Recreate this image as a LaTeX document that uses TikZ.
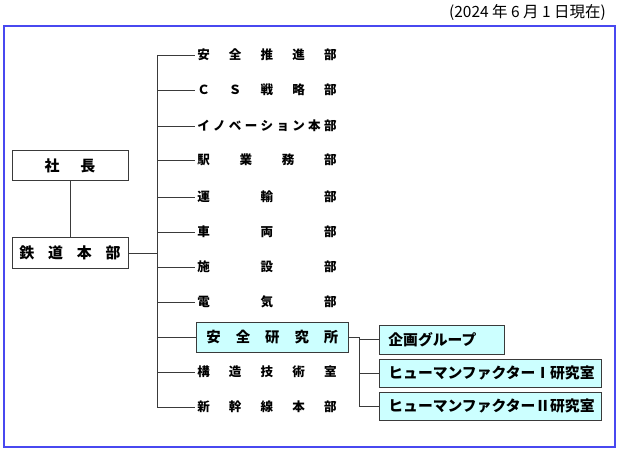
\documentclass[tikz,border=0pt]{standalone}
\usepackage{fontspec}
\setmainfont{Noto Sans CJK JP}
\usetikzlibrary{calc}

\definecolor{frameblue}{HTML}{4848F0}
\definecolor{linegray}{HTML}{3A3A3A}
\definecolor{labcyan}{HTML}{CCFFFF}

% spread the characters of a name over a fixed width
\newcommand{\spread}[2]{\makebox[#1][s]{#2}}

\tikzset{
  frame/.style={draw=frameblue, line width=1.5pt},
  link/.style={draw=linegray, line width=0.6pt},
  topbox/.style={draw=linegray, line width=0.6pt, minimum width=87pt,
    minimum height=23pt, inner sep=0pt,
    font=\fontsize{11.2}{12}\selectfont\bfseries},
  item/.style={anchor=west, inner sep=0pt,
    font=\fontsize{9.4}{10}\selectfont\bfseries},
  labbox/.style={draw=linegray, fill=labcyan, line width=0.6pt,
    anchor=west, inner xsep=6.75pt, inner ysep=0pt, align=left,
    font=\fontsize{11.1}{12}\selectfont\bfseries}
}

\begin{document}
\begin{tikzpicture}[x=0.75pt, y=-0.75pt]
    \useasboundingbox (0,0) rectangle (621,452);

    % -----------------------------------------------------
    % 1) Fecha y marco exterior
    % -----------------------------------------------------
    \node[anchor=east, inner sep=0pt, font=\fontsize{11.6}{12}\selectfont]
        (fecha) at (606,12) {(2024 年 6 月 1 日現在)};
    \draw[frame] (4,26) rectangle (615,447);

    % -----------------------------------------------------
    % 2) Cajas de la izquierda
    % -----------------------------------------------------
    \node[topbox] (shacho) at (70,165.5) {\spread{38pt}{社\hfill 長}};
    \node[topbox] (tetsudo) at (70,253) {\spread{76pt}{鉄\hfill 道\hfill 本\hfill 部}};
    \draw[link] (shacho) -- (tetsudo);

    % -----------------------------------------------------
    % 3) Departamentos del tronco
    % -----------------------------------------------------
    \node[item] (suishin) at (197,55)  {\spread{104.5pt}{安\hfill 全\hfill 推\hfill 進\hfill 部}};
    \node[item] (cs)      at (197,90)  {\spread{104.5pt}{Ｃ\hfill Ｓ\hfill 戦\hfill 略\hfill 部}};
    \node[item] (inov)    at (197,126) {\spread{104.5pt}{イ\hfill ノ\hfill ベ\hfill ー\hfill シ\hfill ョ\hfill ン\hfill 本\hfill 部}};
    \node[item] (eki)     at (197,160) {\spread{104.5pt}{駅\hfill 業\hfill 務\hfill 部}};
    \node[item] (unyu)    at (197,197) {\spread{104.5pt}{運\hfill 輸\hfill 部}};
    \node[item] (sharyo)  at (197,232) {\spread{104.5pt}{車\hfill 両\hfill 部}};
    \node[item] (shisetsu) at (197,267) {\spread{104.5pt}{施\hfill 設\hfill 部}};
    \node[item] (denki)   at (197,302) {\spread{104.5pt}{電\hfill 気\hfill 部}};
    \node[labbox, minimum width=114pt, minimum height=22.5pt, align=center,
          font=\fontsize{10.8}{11}\selectfont\bfseries]
        (kenkyu) at (196,337) {\spread{99pt}{安\hfill 全\hfill 研\hfill 究\hfill 所}};
    \node[item] (kozo)    at (197,372) {\spread{104.5pt}{構\hfill 造\hfill 技\hfill 術\hfill 室}};
    \node[item] (shinkan) at (197,407) {\spread{104.5pt}{新\hfill 幹\hfill 線\hfill 本\hfill 部}};

    % tronco vertical
    \coordinate (trunk) at (157,55);
    \draw[link] (trunk |- suishin.west) -- (trunk |- shinkan.west);
    \draw[link] (tetsudo.east) -- (tetsudo.east -| trunk);
    \foreach \n in {suishin,cs,inov,eki,unyu,sharyo,shisetsu,denki,kozo,shinkan}
        \draw[link] (trunk |- \n.west) -- ++(38,0);
    \draw[link] (trunk |- kenkyu.west) -- (kenkyu.west);

    % -----------------------------------------------------
    % 4) Grupos del instituto
    % -----------------------------------------------------
    \node[labbox, text width=80pt, minimum height=21.75pt] (kikaku) at (379,339.5) {企画グループ};
    \node[labbox, text width=153pt, minimum height=21pt] (hf1) at (379,373) {ヒューマンファクターⅠ研究室};
    \node[labbox, text width=153pt, minimum height=21pt] (hf2) at (379,406) {ヒューマンファクターⅡ研究室};

    \coordinate (branch) at (359,337);
    \draw[link] (kenkyu.east) -- (branch |- kenkyu.east) -- (branch |- hf2.west) -- (hf2.west);
    \draw[link] (branch |- kikaku.west) -- (kikaku.west);
    \draw[link] (branch |- hf1.west) -- (hf1.west);

\end{tikzpicture}
\end{document}
